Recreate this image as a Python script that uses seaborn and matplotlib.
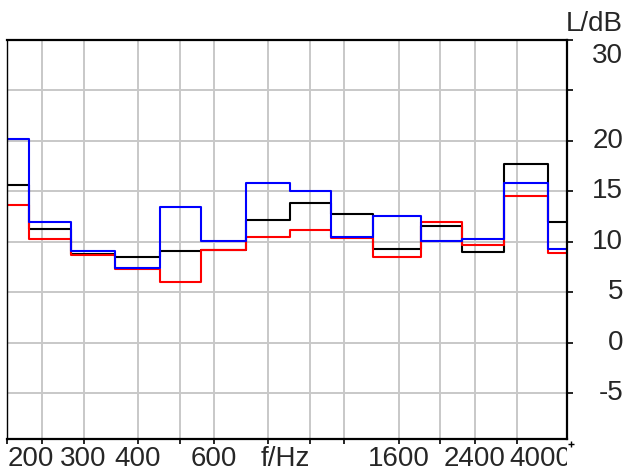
import numpy as np
import pandas as pd
import matplotlib
matplotlib.use("Agg")
import matplotlib.pyplot as plt
import matplotlib.transforms as mtransforms
import seaborn as sns

# 1/3-octave bands (nominal lower edges) and levels in dB
band_edges = [200, 224, 280, 355, 450, 560, 710, 900, 1120, 1400, 1800, 2240, 2800, 3550, 4000]
black_db = [15.6, 11.3, 8.8, 8.5, 9.1, 9.2, 12.2, 13.9, 12.8, 9.3, 11.6, 9.0, 17.7, 12.0]
red_db = [13.7, 10.3, 8.7, 7.3, 6.0, 9.2, 10.5, 11.2, 10.4, 8.5, 12.0, 9.7, 14.5, 8.9]
blue_db = [20.2, 12.0, 9.1, 7.4, 13.5, 10.1, 15.8, 15.0, 10.5, 12.6, 10.1, 10.3, 15.8, 9.3]

x_ticks = [200, 240, 300, 400, 500, 600, 800, 1000, 1200, 1600, 2000, 2400, 3000]
x_labels = ["200", "", "300", "400", "", "600", "", "", "", "1600", "", "2400", ""]
y_ticks = [-5, 0, 5, 10, 15, 20, 25, 30]
y_labels = ["-5", "0", "5", "10", "15", "20", "", "30"]

sns.set_style("white")
plt.rcParams["font.family"] = ["Liberation Sans", "DejaVu Sans"]
FS = 20

fig = plt.figure(figsize=(6.26, 4.75), dpi=100)
ax = fig.add_axes([7.3 / 626, 35.7 / 475, 559.4 / 626, 399.3 / 475])

for vals, col in [(black_db, "black"), (red_db, "red"), (blue_db, "blue")]:
    df = pd.DataFrame({"f": band_edges, "L": vals + [vals[-1]]})
    sns.lineplot(data=df, x="f", y="L", color=col, lw=1.5, drawstyle="steps-post",
                 ax=ax, sort=False, legend=False)

ax.set_xscale("log")
ax.set_xlim(200, 3912)
ax.set_ylim(-9.55, 30)
ax.set_xlabel("")
ax.set_ylabel("")

ax.set_xticks(x_ticks)
ax.set_xticks([], minor=True)
ax.set_yticks(y_ticks)
ax.set_xticklabels([])
ax.set_yticklabels([])
ax.grid(True, color="#c8c8c8", lw=1.4)
ax.set_axisbelow(True)

ax.yaxis.tick_right()
ax.tick_params(axis="x", bottom=True, direction="out", length=3.5, width=1.2, color="black")
ax.tick_params(axis="y", right=True, left=False, direction="out", length=4.5, width=1.2, color="black")
for side, lw in [("top", 1.6), ("bottom", 1.6), ("right", 1.6), ("left", 1.0)]:
    ax.spines[side].set_visible(True)
    ax.spines[side].set_color("black")
    ax.spines[side].set_linewidth(lw)

# small tick mark at 4000 Hz outside the frame
ax.plot([4000], [-10.0], marker="+", color="black", ms=4, mew=1, clip_on=False)

# x labels
xtr = mtransforms.blended_transform_factory(ax.transData, fig.transFigure)
ylab = (475 - 459.5) / 475
for f, lab in zip(x_ticks, x_labels):
    if lab:
        ax.text(f, ylab, lab, transform=xtr, ha="left" if f == 200 else "center",
                va="center", fontsize=FS)
ax.text(875, ylab, "f/Hz", transform=xtr, ha="center", va="center", fontsize=FS)
t4 = ax.text(2880, ylab, "4000", transform=xtr, ha="left", va="center", fontsize=FS,
             clip_on=True)
t4.set_clip_box(mtransforms.TransformedBbox(mtransforms.Bbox([[0, -1], [1, 0.5]]), ax.transAxes))

# y labels on the right
ytr = mtransforms.blended_transform_factory(fig.transFigure, ax.transData)
for v, lab in zip(y_ticks, y_labels):
    if lab:
        ax.text(623 / 626, 28.4 if v == 30 else v, lab, transform=ytr, ha="right",
                va="center", fontsize=FS)
ax.text(623 / 626, 31.6, "L/dB", transform=ytr, ha="right", va="center", fontsize=FS)

fig.savefig("out.png", dpi=100)
